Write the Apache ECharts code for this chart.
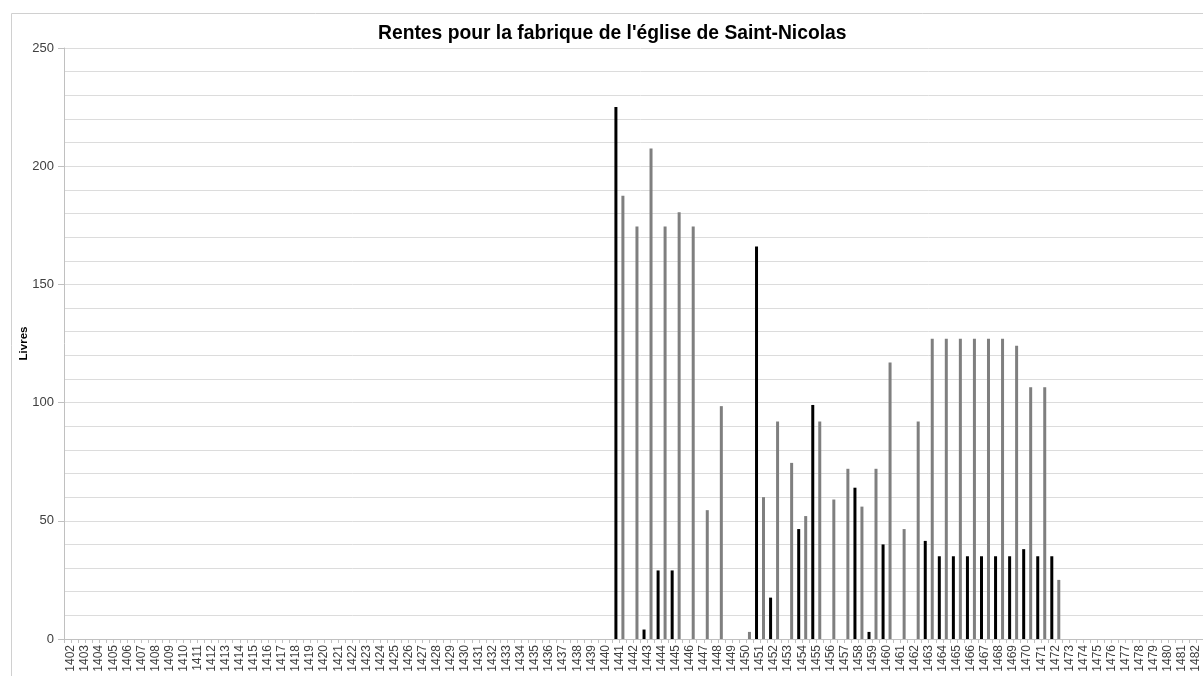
<!DOCTYPE html>
<html>
<head>
<meta charset="utf-8">
<script src="https://cdn.jsdelivr.net/npm/echarts@6/dist/echarts.min.js"></script>
<style>
  html, body { margin: 0; padding: 0; background: #fff; overflow: hidden; }
  #chart { width: 1230px; height: 676px; }
</style>
</head>
<body>
<div id="chart"></div>
<script>
// years shown on the axis: 1402 .. 1483
var firstYear = 1402
var lastYear = 1483
var years = []
for (var y = firstYear; y <= lastYear; y++) years.push(String(y))

// values (livres) for the years 1441 .. 1472, null = no bar
var dataStartYear = 1441
var blackValues = [225, null, 4, 29, 29, null, null, null, null, null,
    166, 17.5, null, 46.5, 99, null, null, 64, 3, 40,
    null, null, 41.5, 35, 35, 35, 35, 35, 35, 38,
    35, 35]
var grayValues = [187.5, 174.5, 207.5, 174.5, 180.5, 174.5, 54.5, 98.5, null, 3,
    60, 92, 74.5, 52, 92, 59, 72, 56, 72, 117,
    46.5, 92, 127, 127, 127, 127, 127, 127, 124, 106.5,
    106.5, 25]

function fullSeries(values) {
    var out = []
    years.forEach(function (yr) {
        var idx = Number(yr) - dataStartYear
        out.push(idx >= 0 && idx < values.length ? values[idx] : null)
    })
    return out
}

// half-year slots, only used to draw the small ticks under the axis
var tickSlots = []
years.forEach(function (yr) { tickSlots.push(yr + 'a'); tickSlots.push(yr + 'b') })

var chart = echarts.init(document.getElementById('chart'))

var option = {
    animation: false,
    backgroundColor: '#fff',
    title: {
        text: "Rentes pour la fabrique de l'église de Saint-Nicolas",
        left: 373,
        top: 19,
        textStyle: {
            fontFamily: 'Liberation Sans',
            fontWeight: 'bold',
            fontSize: 19.3,
            color: '#000'
        }
    },
    graphic: [{
        type: 'rect',
        left: 9,
        top: 11,
        shape: { width: 1215, height: 700 },
        style: { fill: 'none', stroke: '#d0d0d0', lineWidth: 1 },
        silent: true
    }],
    grid: {
        left: 64,
        top: 48,
        bottom: 37,
        right: 13
    },
    xAxis: [{
        type: 'category',
        data: years,
        axisLine: { show: true, lineStyle: { color: '#c0c0c0' } },
        axisTick: { show: false },
        axisLabel: {
            interval: 0,
            rotate: 90,
            margin: 6,
            fontFamily: 'Liberation Sans',
            fontSize: 12,
            color: '#404040'
        }
    }, {
        type: 'category',
        data: tickSlots,
        position: 'bottom',
        axisLine: { show: false },
        axisLabel: { show: false },
        axisTick: { show: true, interval: 0, length: 4, lineStyle: { color: '#c0c0c0' } },
        splitLine: { show: false }
    }],
    yAxis: {
        type: 'value',
        min: 0,
        max: 250,
        interval: 50,
        name: 'Livres',
        nameLocation: 'middle',
        nameGap: 34,
        nameMoveOverlap: false,
        nameTextStyle: {
            fontFamily: 'Liberation Sans',
            fontWeight: 'bold',
            fontSize: 11.5,
            color: '#000'
        },
        axisLine: { show: true, lineStyle: { color: '#c0c0c0' } },
        axisTick: { show: true, length: 6, lineStyle: { color: '#c0c0c0' } },
        axisLabel: {
            margin: 10,
            fontFamily: 'Liberation Sans',
            fontSize: 13,
            color: '#404040'
        },
        splitLine: { lineStyle: { color: '#dcdcdc' } },
        minorTick: { show: false, splitNumber: 5 },
        minorSplitLine: { show: true, lineStyle: { color: '#dcdcdc' } }
    },
    series: [{
        name: 'noir',
        type: 'bar',
        xAxisIndex: 0,
        data: fullSeries(blackValues),
        barWidth: 3,
        barGap: '133%',
        itemStyle: { color: '#000' }
    }, {
        name: 'gris',
        type: 'bar',
        xAxisIndex: 0,
        data: fullSeries(grayValues),
        barWidth: 3,
        itemStyle: { color: '#7f7f7f' }
    }]
}

chart.setOption(option)
</script>
</body>
</html>
